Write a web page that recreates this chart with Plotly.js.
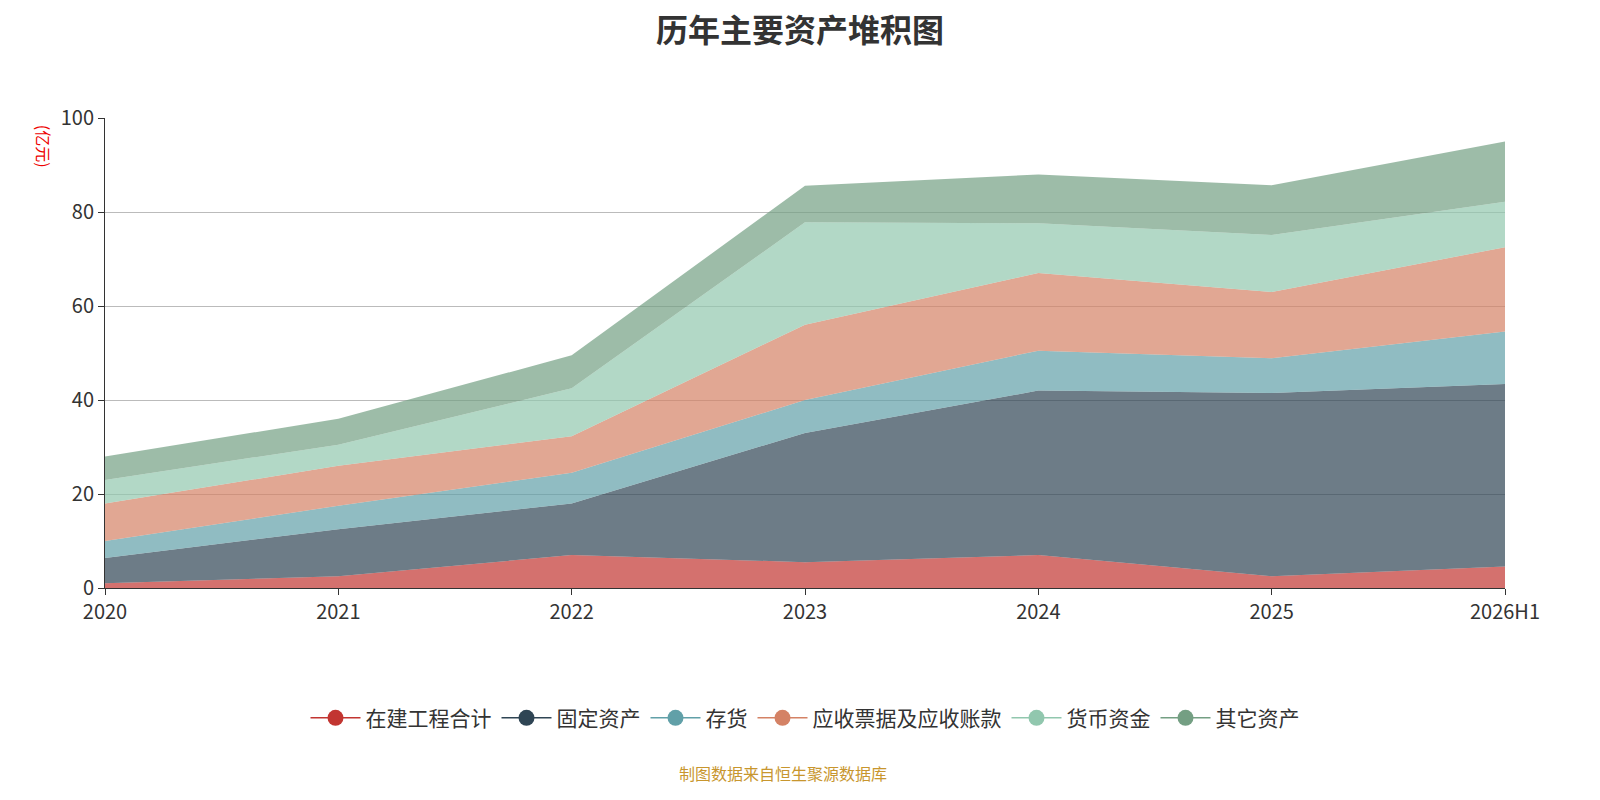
<!DOCTYPE html>
<html>
<head>
<meta charset="utf-8">
<script src="https://cdn.plot.ly/plotly-3.0.1.min.js"></script>
<style>body{margin:0}#chart{width:1600px;height:800px}</style>
</head>
<body>
<div id="chart"></div>
<script>
var years = ['2020','2021','2022','2023','2024','2025','2026H1'];
var names = ['在建工程合计','固定资产','存货','应收票据及应收账款','货币资金','其它资产'];
var zjgc = [1.0, 2.5, 7.0, 5.5, 7.0, 2.5, 4.6];
var gdzc = [5.4, 10.0, 11.0, 27.5, 35.0, 39.0, 38.8];
var ch   = [3.6, 5.0, 6.5, 7.0, 8.5, 7.4, 11.2];
var yszk = [8.0, 8.5, 7.8, 16.0, 16.5, 14.1, 17.9];
var hbzj = [5.0, 4.5, 10.2, 21.8, 10.6, 12.1, 9.7];
var qt   = [5.0, 5.5, 7.0, 7.8, 10.4, 10.6, 12.8];
var series = [zjgc, gdzc, ch, yszk, hbzj, qt];
var colors = ['#c23531','#2f4554','#61a0a8','#d48265','#91c7ae','#749f83'];
var fills = ['rgba(194,53,49,0.7)','rgba(47,69,84,0.7)','rgba(97,160,168,0.7)','rgba(212,130,101,0.7)','rgba(145,199,174,0.7)','rgba(116,159,131,0.7)'];

var data = [];
series.forEach(function(s, i){
	data.push({x: years, y: s, name: names[i], type: 'scatter', mode: 'lines',
		stackgroup: 'one', line: {width: 0, color: colors[i]}, fillcolor: fills[i],
		showlegend: false, hoverinfo: 'x+y+name'});
});
// legend entries: line with circle
names.forEach(function(n, i){
	data.push({x: [null], y: [null], name: n, type: 'scatter', mode: 'lines+markers',
		line: {color: colors[i], width: 1.5}, marker: {color: colors[i], size: 22}});
});

var layout = {
	width: 1600, height: 800,
	margin: {l: 105, r: 95, t: 118, b: 212},
	paper_bgcolor: '#fff', plot_bgcolor: '#fff',
	font: {family: '"Noto Sans CJK SC", "Noto Sans", sans-serif', size: 20, color: '#333'},
	title: {text: '<b>历年主要资产堆积图</b>', x: 0.5, y: 0.975, yanchor: 'top', font: {size: 32, color: '#333'}},
	xaxis: {type: 'category', range: [0, 6], showgrid: false, showline: true, linecolor: '#333',
		ticks: 'outside', ticklen: 6, tickcolor: '#333', tickfont: {size: 20, color: '#333'}, zeroline: false},
	yaxis: {range: [0, 100], dtick: 20, showgrid: true, gridcolor: '#bbb', showline: true, linecolor: '#333',
		ticks: 'outside', ticklen: 6, tickcolor: '#333', tickfont: {size: 20, color: '#333'}, zeroline: false},
	showlegend: true,
	legend: {orientation: 'h', traceorder: 'normal', x: 0.5, xanchor: 'center', y: -0.277, yanchor: 'middle',
		itemwidth: 50, font: {size: 21, color: '#333'}},
	annotations: [
		{text: '(亿元)', xref: 'paper', yref: 'paper', x: -0.044, y: 0.99, xanchor: 'center', yanchor: 'top',
			textangle: 90, showarrow: false, font: {size: 16, color: '#e00'}},
		{text: '制图数据来自恒生聚源数据库', xref: 'paper', yref: 'paper', x: 0.484, xanchor: 'center', y: -0.394,
			yanchor: 'middle', showarrow: false, font: {size: 16, color: '#c8962e'}}
	]
};
Plotly.newPlot('chart', data, layout, {displayModeBar: false});
</script>
</body>
</html>
